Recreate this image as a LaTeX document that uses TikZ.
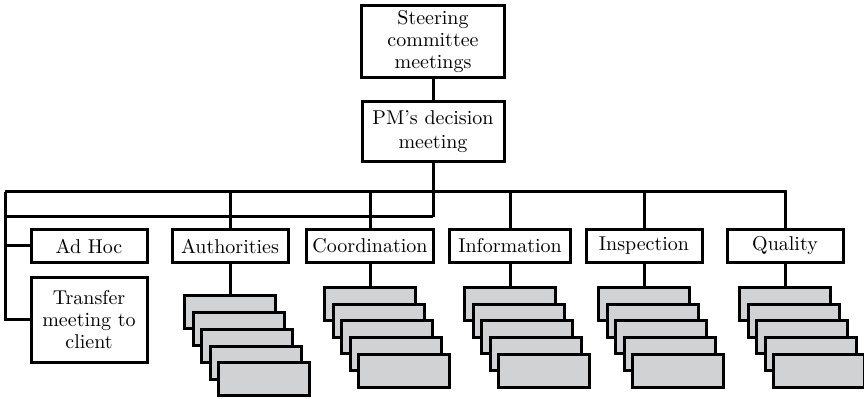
\documentclass[tikz,border=0pt]{standalone}
\usepackage{xcolor}
\usepackage{tikz}
\usetikzlibrary{positioning,calc}
\definecolor{stackgray}{RGB}{209,210,212}

\begin{document}
\begin{tikzpicture}[
  x=0.5pt, y=-0.5pt,
  every path/.style={line width=1.5pt},
  box/.style={draw, line width=1.5pt, align=center, inner sep=1pt,
              minimum height=16.5pt, minimum width=58pt, fill=white},
  card/.style={draw, line width=1.5pt, fill=stackgray,
               minimum width=45.5pt, minimum height=16.5pt, inner sep=0pt}
]
\useasboundingbox (0,0) rectangle (864,399);

\node[box, minimum width=71.5pt, minimum height=36pt] (steer) at (433,42) {Steering\\[-1pt]committee\\[-1pt]meetings};
\node[box, minimum width=71pt, minimum height=30pt] (pm) at (433,132) {PM's decision\\meeting};

\node[box] (adhoc) at (89,246) {Ad Hoc};
\node[box, minimum height=42.5pt] (transfer) at (89,320) {Transfer\\[-1pt]meeting to\\[-1pt]client};
\node[box] (auth) at (230,246) {Authorities};
\node[box, minimum width=63.5pt] (coord) at (370,246) {Coordination};
\node[box, minimum width=60.5pt] (info) at (510,246) {Information};
\node[box] (insp) at (644,246) {Inspection};
\node[box] (qual) at (785,246) {Quality};

\coordinate (topL) at (5,192);
\coordinate (lowL) at (5,217);
\coordinate (hub) at (pm |- lowL);

\draw (steer) -- (pm);
\draw (pm) -- (hub);
\draw (lowL) -- (hub);
\draw (topL) -- (topL -| qual) -- (qual);
\draw (topL) |- (transfer);
\draw (adhoc) -- (adhoc -| topL);
\foreach \n in {auth,coord,info,insp}
  \draw (\n) -- (\n |- topL);

\foreach \n/\y in {auth/312.5,coord/304,info/304,insp/304,qual/304} {
  \foreach \i in {0,...,4}
    \node[card] (\n-\i) at ($(\n |- 0,\y)+(\i*8.5,\i*16.7)$) {};
  \draw (\n) -- (\n-0);
}
\end{tikzpicture}
\end{document}
